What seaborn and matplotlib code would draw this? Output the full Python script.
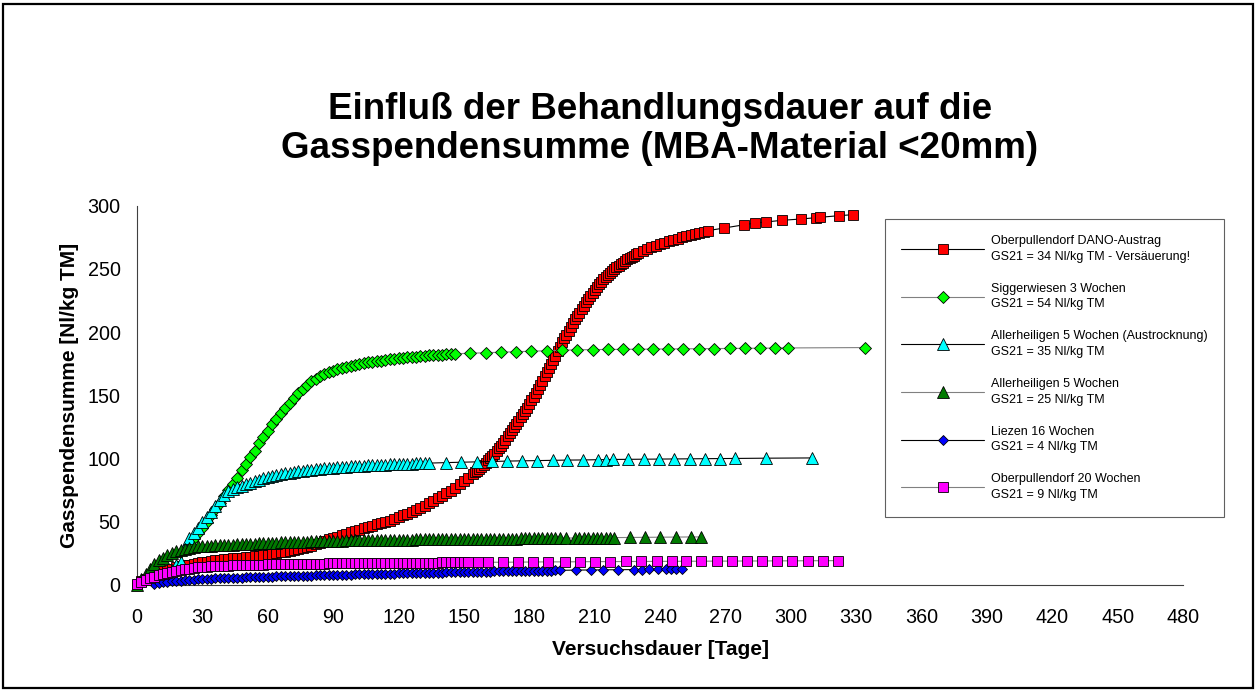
import matplotlib
matplotlib.use("Agg")
import matplotlib.pyplot as plt
from matplotlib.patches import Rectangle
from matplotlib.lines import Line2D
import seaborn as sns

# ---------------- data (day, cumulative gas sum in Nl/kg TM) ----------------
RED_DANO = [
    (0, 0), (2, 3), (4, 5), (6, 7), (8, 8.5), (10, 10), (12, 11), (14, 12), (16, 13), (18, 14),
    (20, 15), (22, 15.5), (24, 16), (26, 16.7), (28, 17.3), (30, 18), (32, 18.5), (34, 19), (36, 19.5),
    (38, 19.9), (40, 20.3), (42, 20.7), (44, 21), (46, 21.4), (48, 21.7), (50, 22), (52, 22.4),
    (54, 22.8), (56, 23.2), (58, 23.6), (60, 24), (62, 24.6), (64, 25.2), (66, 25.8), (68, 26.4),
    (70, 27), (72, 27.8), (74, 28.6), (76, 29.4), (78, 30.2), (80, 31), (82, 32.2), (84, 33.4),
    (86, 34.6), (88, 36), (90, 37), (92, 38.2), (94, 39.4), (96, 40.6), (98, 41.6), (100, 42.7),
    (102, 43.8), (104, 45), (106, 46), (108, 47), (110, 48), (112, 49), (114, 50), (116, 51),
    (118, 52.3), (120, 53.6), (122, 55), (124, 56.3), (126, 57.7), (128, 59.3), (130, 61),
    (132, 62.8), (134, 64.7), (136, 66.6), (138, 68.5), (140, 70.5), (142, 72.5), (144, 74.7),
    (146, 77), (148, 79.5), (150, 82), (152, 84.5), (154, 87.5), (155, 89), (156, 90.5), (157, 92),
    (158, 93.5), (159, 95), (160, 96.8), (161, 98.6), (162, 100.4), (163, 102.2), (164, 104),
    (165, 106), (166, 108), (167, 110.3), (168, 112.6), (169, 115), (170, 117.5), (171, 120),
    (172, 122.5), (173, 125), (174, 127.5), (175, 130), (176, 132.5), (177, 135), (178, 137.5),
    (179, 140), (180, 143), (181, 146), (182, 149), (183, 152), (184, 155), (185, 158), (186, 161.5),
    (187, 165), (188, 168.5), (189, 172), (190, 175), (191, 178), (192, 181.5), (193, 185),
    (194, 188.5), (195, 192), (196, 195), (197, 198), (198, 201), (199, 204), (200, 207), (201, 210),
    (202, 212.5), (203, 215), (204, 218), (205, 221), (206, 223.5), (207, 226), (208, 228.5),
    (209, 231), (210, 233.5), (211, 236), (212, 238), (213, 240), (214, 242), (215, 244),
    (216, 245.5), (217, 247), (218, 248.5), (219, 250), (220, 251.3), (221, 252.5), (222, 253.8),
    (223, 255), (224, 256.3), (225, 257.5), (226, 258.5), (227, 259.5), (228, 260.5), (229, 261.5),
    (230, 262.5), (232, 264), (234, 265.8), (236, 267.2), (238, 268.4), (240, 269.6), (242, 270.8),
    (244, 271.9), (246, 273), (248, 274), (250, 275), (252, 276), (254, 277), (256, 277.8),
    (258, 278.6), (260, 279.4), (262, 280.3), (269.5, 282.4), (278.5, 285), (283.5, 286.3),
    (288.4, 287.1), (295.7, 288.4), (304.7, 289.5), (311.3, 290.5), (313.2, 290.8), (321.9, 292.1),
    (328.5, 292.9),
]

GREEN_SIGGERWIESEN = [
    (24, 32), (26, 37), (28, 41), (30, 45), (32, 50), (34, 55), (36, 60), (38, 65), (40, 70),
    (42, 75), (44, 80), (46, 85), (48, 91), (50, 96), (52, 101), (54, 106), (56, 112), (58, 117),
    (60, 122), (62, 127), (64, 131), (66, 136), (68, 140), (70, 144), (72, 148), (74, 152),
    (76, 155), (78, 158), (80, 161), (82, 163), (84, 165), (86, 167), (88, 168.5), (90, 169.5),
    (92, 170.5), (94, 171.5), (96, 172.5), (98, 173.3), (100, 174), (102, 174.7), (104, 175.3),
    (106, 176), (108, 176.5), (110, 177), (112, 177.5), (114, 178), (116, 178.4), (118, 178.8),
    (120, 179.2), (122, 179.6), (124, 180), (126, 180.3), (128, 180.6), (130, 181), (132, 181.3),
    (134, 181.6), (136, 181.9), (138, 182.1), (140, 182.3), (142, 182.5), (144, 182.7),
    (146, 182.9), (153, 183.3), (160, 183.7), (166.9, 184.1), (173.8, 184.5), (180.8, 184.9),
    (188, 185.3), (195.1, 185.7), (202.1, 186), (209, 186.2), (215.9, 186.3), (222.9, 186.4),
    (229.8, 186.5), (236.8, 186.6), (243.7, 186.7), (250.7, 186.8), (257.7, 186.9), (264.9, 187),
    (272, 187.1), (278.9, 187.2), (285.9, 187.3), (292.8, 187.4), (298.5, 187.5), (334.2, 187.8),
]

CYAN_AUSTROCKNUNG = [
    (16, 12), (18, 16), (20, 18.5), (22, 30), (24, 37), (26, 41), (28, 45), (30, 49.5), (32, 54),
    (34, 58), (36, 62.5), (38, 67), (40, 71), (42, 74), (44, 76), (46, 77.5), (48, 78.5),
    (50, 79.7), (52, 81), (54, 82.2), (56, 83.4), (58, 84.4), (60, 85.2), (62, 86), (64, 86.8),
    (66, 87.5), (68, 88.2), (70, 88.8), (72, 89.3), (74, 89.8), (76, 90.3), (78, 90.7), (80, 91.1),
    (82, 91.5), (84, 91.9), (86, 92.2), (88, 92.5), (90, 92.8), (92, 93.1), (94, 93.4), (96, 93.6),
    (98, 93.8), (100, 94), (102, 94.2), (104, 94.4), (106, 94.6), (108, 94.8), (110, 95),
    (112, 95.2), (114, 95.3), (116, 95.5), (118, 95.6), (120, 95.7), (122, 95.8), (124, 95.9),
    (126, 96), (128, 96.1), (130, 96.2), (132, 96.3), (134, 96.4), (141.6, 96.8), (148.8, 97.1),
    (155.8, 97.4), (162.9, 97.7), (169.7, 98), (176.7, 98.2), (183.6, 98.4), (190.7, 98.6),
    (197.5, 98.8), (204.6, 98.9), (211.4, 99.1), (215.2, 99.2), (218.5, 99.3), (225.5, 99.4),
    (232.4, 99.5), (239.6, 99.6), (246.6, 99.7), (253.7, 99.8), (260.5, 99.9), (267.6, 100),
    (274.5, 100.1), (288.4, 100.3), (309.6, 100.5),
]

DARKGREEN_ALLERHEILIGEN = [
    (0, 0), (2, 5), (4, 9), (6, 13), (8, 16.5), (10, 19.5), (12, 21.5), (14, 23.5), (16, 25),
    (18, 26.5), (20, 27.8), (22, 28.8), (24, 29.5), (26, 30), (28, 30.5), (30, 30.8), (32, 31),
    (34, 31.2), (36, 31.4), (38, 31.5), (40, 31.7), (42, 31.8), (44, 32), (46, 32.1), (48, 32.3),
    (50, 32.4), (52, 32.6), (54, 32.8), (56, 33), (58, 33.1), (60, 33.3), (62, 33.4), (64, 33.5),
    (66, 33.7), (68, 33.8), (70, 33.9), (72, 34), (74, 34.1), (76, 34.2), (78, 34.3), (80, 34.5),
    (82, 34.6), (84, 34.7), (86, 34.8), (88, 34.9), (90, 35), (92, 35.1), (94, 35.1), (96, 35.2),
    (98, 35.3), (100, 35.3), (102, 35.4), (104, 35.4), (106, 35.5), (108, 35.5), (110, 35.6),
    (112, 35.6), (114, 35.7), (116, 35.7), (118, 35.8), (120, 35.8), (122, 35.8), (124, 35.9),
    (126, 35.9), (128, 36), (130, 36), (132, 36), (134, 36.1), (136, 36.1), (138, 36.1),
    (140, 36.2), (142, 36.2), (144, 36.2), (146, 36.3), (148, 36.3), (150, 36.3), (152, 36.4),
    (154, 36.4), (156, 36.4), (158, 36.5), (160, 36.5), (162, 36.5), (164, 36.6), (166, 36.6),
    (168, 36.6), (170, 36.7), (172, 36.7), (174, 36.7), (176, 36.8), (178, 36.8), (180, 36.8),
    (182, 36.9), (184, 36.9), (186, 36.9), (188, 37), (190, 37), (192, 37), (194, 37.1),
    (197, 37.1), (201, 37.2), (203, 37.2), (205, 37.2), (207, 37.3), (209, 37.3), (211, 37.3),
    (213, 37.4), (215, 37.4), (217, 37.4), (219, 37.5), (226.2, 37.6), (233, 37.7), (240.1, 37.8),
    (247.1, 37.9), (254.3, 38), (258.9, 38),
]

BLUE_LIEZEN = [
    (8, 0.5), (10, 1.3), (12, 2), (14, 2.6), (16, 2.9), (18, 3.2), (20, 3.5), (22, 3.8), (24, 4.1),
    (26, 4.3), (28, 4.5), (30, 4.7), (32, 4.85), (34, 5), (36, 5.15), (38, 5.3), (40, 5.45),
    (42, 5.6), (44, 5.7), (46, 5.8), (48, 5.9), (50, 6.05), (52, 6.2), (54, 6.3), (56, 6.4),
    (58, 6.5), (60, 6.6), (62, 6.7), (64, 6.8), (66, 6.9), (68, 7), (70, 7.1), (72, 7.2), (74, 7.3),
    (76, 7.35), (78, 7.4), (80, 7.5), (82, 7.6), (84, 7.7), (86, 7.75), (88, 7.85), (90, 7.9),
    (92, 8), (94, 8.1), (96, 8.2), (98, 8.3), (100, 8.35), (102, 8.45), (104, 8.5), (106, 8.6),
    (108, 8.7), (110, 8.8), (112, 8.85), (114, 8.9), (116, 9), (118, 9.05), (120, 9.1), (122, 9.2),
    (124, 9.3), (126, 9.35), (128, 9.4), (130, 9.5), (132, 9.55), (134, 9.6), (136, 9.7),
    (138, 9.75), (140, 9.85), (142, 9.9), (144, 10), (146, 10.05), (148, 10.1), (150, 10.2),
    (152, 10.25), (154, 10.3), (156, 10.4), (158, 10.45), (160, 10.5), (162, 10.6), (164, 10.7),
    (166, 10.8), (168, 10.85), (170, 10.9), (172, 10.95), (174, 11), (176, 11.05), (178, 11.1),
    (180, 11.2), (182, 11.25), (184, 11.3), (186, 11.35), (188, 11.4), (190, 11.45), (192, 11.5),
    (194.3, 11.6), (201.3, 11.8), (208.2, 11.9), (213.9, 12), (220.9, 12.1), (227.8, 12.2),
    (231.9, 12.2), (234.8, 12.3), (238.9, 12.3), (242.5, 12.4), (245, 12.4), (247.5, 12.4),
    (249.9, 12.5),
]

MAGENTA_OBERPULLENDORF20 = [
    (0, 1), (2, 2), (4, 4), (6, 5.5), (8, 6.6), (10, 7.6), (12, 8.5), (14, 9.2), (16, 10),
    (18, 10.8), (20, 11.6), (22, 12.4), (24, 13), (26, 13.5), (28, 13.9), (30, 14.2), (32, 14.4),
    (34, 14.7), (36, 14.9), (38, 15.1), (40, 15.2), (42, 15.4), (44, 15.5), (46, 15.6), (48, 15.7),
    (50, 15.8), (52, 15.9), (54, 16), (56, 16.1), (58, 16.2), (60, 16.3), (62, 16.35), (64, 16.4),
    (66, 16.5), (68, 16.55), (70, 16.6), (72, 16.65), (74, 16.7), (76, 16.75), (78, 16.8),
    (80, 16.85), (82, 16.9), (84, 16.95), (86, 17), (88, 17.05), (90, 17.1), (92, 17.1),
    (94, 17.15), (96, 17.2), (98, 17.2), (100, 17.25), (102, 17.3), (104, 17.3), (106, 17.35),
    (108, 17.4), (110, 17.4), (112, 17.45), (114, 17.5), (116, 17.5), (118, 17.5), (120, 17.55),
    (122, 17.6), (124, 17.6), (126, 17.6), (128, 17.65), (130, 17.7), (132, 17.7), (134, 17.7),
    (136, 17.75), (138, 17.75), (140, 17.8), (142, 17.8), (144, 17.8), (146, 17.85), (148, 17.85),
    (150, 17.9), (152, 17.9), (156.6, 17.9), (161.2, 18), (168.1, 18), (175, 18.1), (181.8, 18.2),
    (188.7, 18.3), (196.4, 18.3), (203.3, 18.4), (210.1, 18.5), (217.2, 18.5), (224.5, 18.6),
    (231.4, 18.6), (238.4, 18.7), (245.3, 18.7), (252, 18.8), (258.9, 18.8), (265.9, 18.9),
    (272.8, 18.9), (279.9, 19), (286.7, 19), (293.8, 19.1), (300.6, 19.1), (307.7, 19.2),
    (314.9, 19.2), (321.6, 19.3),
]

SERIES_LABELS = [
    "Oberpullendorf DANO-Austrag\nGS21 = 34 Nl/kg TM - Versäuerung!",
    "Siggerwiesen 3 Wochen\nGS21 = 54 Nl/kg TM",
    "Allerheiligen 5 Wochen (Austrocknung)\nGS21 = 35 Nl/kg TM",
    "Allerheiligen 5 Wochen\nGS21 = 25 Nl/kg TM",
    "Liezen 16 Wochen\nGS21 = 4 Nl/kg TM",
    "Oberpullendorf 20 Wochen\nGS21 = 9 Nl/kg TM",
]
X_TICKS = [0, 30, 60, 90, 120, 150, 180, 210, 240, 270, 300, 330, 360, 390, 420, 450, 480]
Y_TICKS = [0, 50, 100, 150, 200, 250, 300]
TITLE = "Einfluß der Behandlungsdauer auf die\nGasspendensumme (MBA-Material <20mm)"
X_LABEL = "Versuchsdauer [Tage]"
Y_LABEL = "Gasspendensumme [Nl/kg TM]"

# ---------------- styling ----------------
sns.set_style("white")
plt.rcParams["font.family"] = ["Liberation Sans", "DejaVu Sans"]
plt.rcParams["text.color"] = "black"
plt.rcParams["axes.labelcolor"] = "black"
plt.rcParams["xtick.color"] = "black"
plt.rcParams["ytick.color"] = "black"

styles = [
    dict(marker="s", mfc="#FF0000", line="#000000", ms=7.6),
    dict(marker="D", mfc="#00FF00", line="#808080", ms=5.7),
    dict(marker="^", mfc="#00FFFF", line="#000000", ms=8.0),
    dict(marker="^", mfc="#007A00", line="#808080", ms=8.0),
    dict(marker="D", mfc="#0000FF", line="#000000", ms=5.4),
    dict(marker="s", mfc="#FF00FF", line="#808080", ms=7.4),
]
all_series = [RED_DANO, GREEN_SIGGERWIESEN, CYAN_AUSTROCKNUNG, DARKGREEN_ALLERHEILIGEN,
              BLUE_LIEZEN, MAGENTA_OBERPULLENDORF20]

W, H = 1256, 691
fig = plt.figure(figsize=(W / 100, H / 100), dpi=100)
fig.patch.set_facecolor("white")

x0, x1 = 136.9, 1183.3
y0, y1 = 585.0, 205.7
ax = fig.add_axes([x0 / W, 1 - y0 / H, (x1 - x0) / W, (y0 - y1) / H])

handles = []
for i, (data, st, lab) in enumerate(zip(all_series, styles, SERIES_LABELS)):
    days = [d for d, _ in data]
    vals = [v for _, v in data]
    sns.lineplot(x=days, y=vals, ax=ax, sort=False, estimator=None,
                 color=st["line"], lw=0.8, marker=st["marker"], markersize=st["ms"],
                 markerfacecolor=st["mfc"], markeredgecolor="black", markeredgewidth=0.6,
                 clip_on=False, zorder=3 + i)
    handles.append(Line2D([], [], color=st["line"], lw=0.8, marker=st["marker"],
                          markersize=st["ms"], markerfacecolor=st["mfc"],
                          markeredgecolor="black", markeredgewidth=0.6, label=lab))

ax.set_xlim(0, 480)
ax.set_ylim(0, 300)
ax.set_xticks(X_TICKS)
ax.set_yticks(Y_TICKS)
ax.tick_params(axis="both", direction="inout", length=7.5, width=0.8, color="#404040",
               labelsize=14.2, labelcolor="black")
ax.tick_params(axis="x", pad=13)
ax.tick_params(axis="y", pad=8)
for s in ["top", "right"]:
    ax.spines[s].set_visible(False)
for s in ["left", "bottom"]:
    ax.spines[s].set_color("#404040")
    ax.spines[s].set_linewidth(0.8)
ax.grid(False)
ax.set_facecolor("none")

ax.set_xlabel(X_LABEL, fontsize=15, fontweight="bold", labelpad=9, color="black")
ax.set_ylabel(Y_LABEL, fontsize=15, fontweight="bold", labelpad=6, color="black")

fig.text(660 / W, 1 - 129 / H, TITLE, ha="center", va="center", fontsize=26.5,
         fontweight="bold", linespacing=1.12, color="black")

leg = ax.legend(handles=handles, loc="upper left",
                bbox_to_anchor=(885 / W, 1 - 219 / H), bbox_transform=fig.transFigure,
                borderaxespad=0, fontsize=9, handlelength=6.6, handletextpad=0.55,
                labelspacing=1.6, borderpad=1.3, frameon=True, fancybox=False,
                edgecolor="#606060", framealpha=1)
leg.get_frame().set_linewidth(0.8)
for t in leg.get_texts():
    t.set_linespacing(1.4)
    t.set_color("black")
leg.set_zorder(20)

fig.patches.append(Rectangle((3.5 / W, 3.5 / H), (W - 7) / W, (H - 7) / H,
                             transform=fig.transFigure, fill=False, ec="black", lw=1.6))

fig.savefig("out.png", dpi=100, facecolor="white")
